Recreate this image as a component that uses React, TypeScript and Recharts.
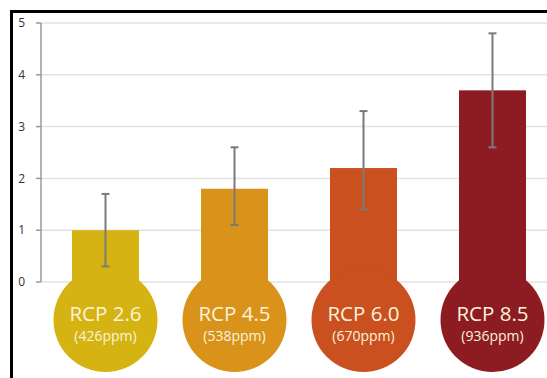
import React from "react";
import { BarChart, Bar, XAxis, YAxis, CartesianGrid, ErrorBar, Cell } from "recharts";

const scenarios = ["RCP 2.6", "RCP 4.5", "RCP 6.0", "RCP 8.5"];
const concentrations = ["(426ppm)", "(538ppm)", "(670ppm)", "(936ppm)"];
const warming = [1.0, 1.8, 2.2, 3.7];
const lowRange = [0.3, 1.1, 1.4, 2.6];
const highRange = [1.7, 2.6, 3.3, 4.8];
const yTicks = [0, 1, 2, 3, 4, 5];
const colors = ["#D5B313", "#D9931A", "#CA5020", "#8C1C22"];

const data = scenarios.map((name, i) => ({
  name,
  ppm: concentrations[i],
  value: warming[i],
  err: [warming[i] - lowRange[i], highRange[i] - warming[i]],
}));

const FONT = "'Open Sans', 'Noto Sans', sans-serif";

const BulbShape = (props: any) => {
  const { x, y, width, height, payload, fill } = props;
  const cx = x + width / 2;
  const base = y + height;
  const cy = base + 38;
  return (
    <g>
      <rect x={x} y={y} width={width} height={height} fill={fill} />
      <circle cx={cx} cy={cy} r={52} fill={fill} />
      <text x={cx} y={cy + 1} textAnchor="middle" fill="#fbf3dc" fontSize={20.5} fontFamily={FONT}>
        {payload.name}
      </text>
      <text x={cx} y={cy + 21} textAnchor="middle" fill="#fbf3dc" fontSize={14} fontFamily={FONT}>
        {payload.ppm}
      </text>
    </g>
  );
};

export default function App() {
  return (
    <div style={{ position: "fixed", left: 0, top: 0, width: 547, height: 378, overflow: "hidden", background: "#fff" }}>
      <BarChart
        width={557}
        height={378}
        data={data}
        margin={{ top: 23, right: 0, bottom: 96, left: 0 }}
        barSize={67}
      >
        <CartesianGrid vertical={false} stroke="#e2e2e2" strokeWidth={1.5} />
        <XAxis dataKey="name" hide />
        <YAxis
          width={41}
          domain={[0, 5]}
          ticks={yTicks}
          interval={0}
          axisLine={{ stroke: "#9a9a9a", strokeWidth: 1.5 }}
          tickLine={{ stroke: "#9a9a9a", strokeWidth: 1.5 }}
          tickSize={5}
          tickMargin={11}
          tick={{ fill: "#333", fontSize: 12, fontFamily: FONT }}
        />
        <Bar dataKey="value" isAnimationActive={false} shape={BulbShape}>
          {data.map((d, i) => (
            <Cell key={d.name} fill={colors[i]} />
          ))}
          <ErrorBar dataKey="err" width={4} stroke="#7a7a7a" strokeWidth={2} direction="y" />
        </Bar>
      </BarChart>
      <div style={{ position: "absolute", left: 10, top: 10, width: 537, height: 3, background: "#000" }} />
      <div style={{ position: "absolute", left: 10, top: 10, width: 3, height: 368, background: "#000" }} />
    </div>
  );
}
